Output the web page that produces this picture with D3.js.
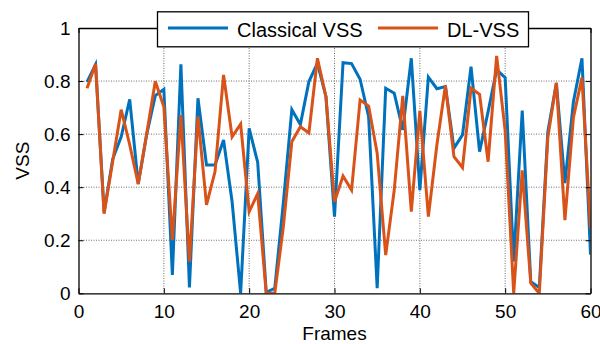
<!DOCTYPE html>
<html>
<head>
<meta charset="utf-8">
<script src="https://cdn.jsdelivr.net/npm/d3@7"></script>
<style>
  html, body { margin: 0; padding: 0; background: #fff; }
  svg { display: block; }
  text { font-family: "Liberation Sans", Arial, Helvetica, sans-serif; fill: #000; }
</style>
</head>
<body>
<svg id="chart" width="600" height="344"></svg>
<script>
// Frame indices 1..60
const frames = d3.range(1, 61);

// Classical VSS per frame
const classicalVSS = [
  0.797, 0.862, 0.305, 0.505, 0.590, 0.731, 0.412, 0.600, 0.745, 0.769,
  0.069, 0.863, 0.022, 0.735, 0.484, 0.484, 0.578, 0.345, 0.000, 0.622,
  0.493, 0.004, 0.019, 0.340, 0.692, 0.636, 0.798, 0.867, 0.741, 0.289,
  0.869, 0.866, 0.807, 0.666, 0.019, 0.773, 0.754, 0.616, 0.886, 0.389,
  0.815, 0.771, 0.779, 0.547, 0.597, 0.854, 0.534, 0.685, 0.843, 0.813,
  0.120, 0.689, 0.044, 0.022, 0.609, 0.792, 0.415, 0.722, 0.886, 0.146
];

// DL-VSS per frame
const dlVSS = [
  0.773, 0.864, 0.300, 0.496, 0.692, 0.560, 0.412, 0.603, 0.799, 0.703,
  0.200, 0.672, 0.119, 0.666, 0.333, 0.459, 0.823, 0.590, 0.638, 0.308,
  0.376, 0.000, 0.000, 0.250, 0.571, 0.628, 0.604, 0.886, 0.741, 0.345,
  0.442, 0.389, 0.729, 0.706, 0.528, 0.144, 0.389, 0.744, 0.308, 0.688,
  0.289, 0.560, 0.783, 0.515, 0.474, 0.773, 0.750, 0.496, 0.895, 0.612,
  0.000, 0.463, 0.038, 0.000, 0.587, 0.794, 0.276, 0.663, 0.813, 0.245
];

const seriesNames = ["Classical VSS", "DL-VSS"];
const seriesColors = ["#0072BD", "#D95319"];

const xTicks = [0, 10, 20, 30, 40, 50, 60];
const yTicks = [0, 0.2, 0.4, 0.6, 0.8, 1];
const yTickLabels = ["0", "0.2", "0.4", "0.6", "0.8", "1"];

const svg = d3.select("#chart");
const plotL = 78.5, plotR = 590.5, plotT = 28, plotB = 293.3;

const x = d3.scaleLinear().domain([0, 60]).range([plotL, plotR]);
const y = d3.scaleLinear().domain([0, 1]).range([plotB, plotT]);

// clip lines to the axes box
svg.append("defs").append("clipPath").attr("id", "plotClip")
  .append("rect").attr("x", plotL).attr("y", plotT)
  .attr("width", plotR - plotL).attr("height", plotB - plotT);

// dotted grid
const grid = svg.append("g");
grid.selectAll("line.gx").data(xTicks.slice(1, -1)).join("line")
  .attr("x1", d => x(d)).attr("x2", d => x(d))
  .attr("y1", plotT).attr("y2", plotB)
  .attr("stroke", "#6e6e6e").attr("stroke-width", 1)
  .attr("stroke-dasharray", "1,1.5");
grid.selectAll("line.gy").data(yTicks.slice(1, -1)).join("line")
  .attr("y1", d => y(d)).attr("y2", d => y(d))
  .attr("x1", plotL).attr("x2", plotR)
  .attr("stroke", "#6e6e6e").attr("stroke-width", 1)
  .attr("stroke-dasharray", "1,1.5");

// data lines
const line = d3.line().x(d => x(d[0])).y(d => y(d[1]));
const plot = svg.append("g").attr("clip-path", "url(#plotClip)");
[classicalVSS, dlVSS].forEach((vals, i) => {
  plot.append("path")
    .datum(frames.map((f, j) => [f, vals[j]]))
    .attr("d", line)
    .attr("fill", "none")
    .attr("stroke", seriesColors[i])
    .attr("stroke-width", 3)
    .attr("stroke-linejoin", "miter")
    .attr("stroke-miterlimit", 4);
});

// axes (ticks pointing inward)
const fontSize = "19px";
const xAxis = svg.append("g").attr("transform", `translate(0,${plotB})`)
  .call(d3.axisBottom(x).tickValues(xTicks).tickSizeInner(-5).tickSizeOuter(0).tickPadding(11));
const yAxis = svg.append("g").attr("transform", `translate(${plotL},0)`)
  .call(d3.axisLeft(y).tickValues(yTicks).tickFormat((d, i) => yTickLabels[i])
    .tickSizeInner(-5).tickSizeOuter(0).tickPadding(8));
const xTop = svg.append("g").attr("transform", `translate(0,${plotT})`)
  .call(d3.axisTop(x).tickValues(xTicks).tickSizeInner(-5).tickSizeOuter(0).tickFormat(""));
const yRight = svg.append("g").attr("transform", `translate(${plotR},0)`)
  .call(d3.axisRight(y).tickValues(yTicks).tickSizeInner(-5).tickSizeOuter(0).tickFormat(""));

[xAxis, yAxis, xTop, yRight].forEach(g => {
  g.select(".domain").attr("stroke", "#000").attr("stroke-width", 1.3);
  g.selectAll(".tick line").attr("stroke", "#000").attr("stroke-width", 1);
  g.selectAll(".tick text").style("font-size", fontSize)
    .style("font-family", '"Liberation Sans", Arial, sans-serif').attr("fill", "#000");
});

// axis titles
svg.append("text").attr("x", (plotL + plotR) / 2).attr("y", 340)
  .attr("text-anchor", "middle").style("font-size", fontSize).text("Frames");
svg.append("text")
  .attr("transform", `translate(29,${(plotT + plotB) / 2}) rotate(-90)`)
  .attr("text-anchor", "middle").style("font-size", fontSize).text("VSS");

// legend
const lg = svg.append("g");
lg.append("rect").attr("x", 157.5).attr("y", 11.8).attr("width", 371).attr("height", 35)
  .attr("fill", "#fff").attr("stroke", "#000").attr("stroke-width", 1.3);
const legendItems = [
  { x1: 168, x2: 228, tx: 237, name: seriesNames[0], color: seriesColors[0] },
  { x1: 378, x2: 438, tx: 447, name: seriesNames[1], color: seriesColors[1] }
];
legendItems.forEach(it => {
  lg.append("line").attr("x1", it.x1).attr("x2", it.x2).attr("y1", 28).attr("y2", 28)
    .attr("stroke", it.color).attr("stroke-width", 3);
  lg.append("text").attr("x", it.tx).attr("y", 37).style("font-size", "20px").text(it.name);
});
</script>
</body>
</html>
